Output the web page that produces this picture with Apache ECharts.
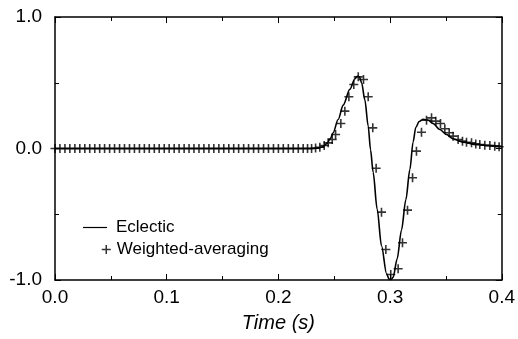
<!DOCTYPE html>
<html>
<head>
<meta charset="utf-8">
<script src="https://cdn.jsdelivr.net/npm/echarts@6/dist/echarts.min.js"></script>
<style>html,body{margin:0;padding:0;background:#fff;}#c{width:518px;height:339px;}</style>
</head>
<body>
<div id="c"></div>
<script>
// Eclectic (solid line)
const lineTime = [0, 0.1, 0.2, 0.23, 0.235, 0.2395, 0.2431, 0.2465, 0.249, 0.2535, 0.258, 0.264, 0.2685, 0.2705, 0.2725, 0.2745, 0.2774, 0.2804, 0.2825, 0.2848, 0.2884, 0.2923, 0.2968, 0.2992, 0.301, 0.3027, 0.3063, 0.3102, 0.3141, 0.3177, 0.3206, 0.323, 0.326, 0.3296, 0.334, 0.3385, 0.3445, 0.3505, 0.3564, 0.3654, 0.3774, 0.3893, 0.4];
const lineValue = [0, 0, 0, 0, 0.003, 0.012, 0.035, 0.075, 0.12, 0.22, 0.33, 0.45, 0.53, 0.55, 0.545, 0.5, 0.37, 0.17, -0.01, -0.18, -0.46, -0.74, -0.95, -0.995, -0.995, -0.98, -0.84, -0.62, -0.39, -0.16, 0.05, 0.16, 0.205, 0.222, 0.215, 0.19, 0.145, 0.106, 0.074, 0.048, 0.03, 0.022, 0.016];

// Weighted-averaging (crosses)
const crossTime = [0.0000, 0.0044, 0.0089, 0.0133, 0.0178, 0.0222, 0.0267, 0.0311, 0.0356, 0.0400, 0.0444, 0.0489, 0.0533, 0.0578, 0.0622, 0.0667, 0.0711, 0.0756, 0.0800, 0.0844, 0.0889, 0.0933, 0.0978, 0.1022, 0.1067, 0.1111, 0.1156, 0.1200, 0.1244, 0.1289, 0.1333, 0.1378, 0.1422, 0.1467, 0.1511, 0.1556, 0.1600, 0.1644, 0.1689, 0.1733, 0.1778, 0.1822, 0.1867, 0.1911, 0.1956, 0.2000, 0.2044, 0.2089, 0.2133, 0.2178, 0.2222,
  0.2261, 0.2297, 0.2333, 0.2371, 0.241, 0.2446, 0.2482, 0.2512, 0.2559, 0.2595, 0.2631, 0.2675, 0.2715, 0.2762, 0.2804, 0.2845, 0.2875, 0.2923, 0.2962, 0.3006, 0.3072, 0.3111, 0.3156, 0.3201, 0.3236, 0.3281, 0.3326, 0.3371, 0.3409, 0.3451, 0.349, 0.3529, 0.3564, 0.3609, 0.3648, 0.3684, 0.3729, 0.3767, 0.3803, 0.3848, 0.3893, 0.3937, 0.3976];
const crossValue = [0, 0, 0, 0, 0, 0, 0, 0, 0, 0, 0, 0, 0, 0, 0, 0, 0, 0, 0, 0, 0, 0, 0, 0, 0, 0, 0, 0, 0, 0, 0, 0, 0, 0, 0, 0, 0, 0, 0, 0, 0, 0, 0, 0, 0, 0, 0, 0, 0, 0, 0,
  0, 0, 0.003, 0.01, 0.023, 0.043, 0.068, 0.106, 0.19, 0.284, 0.393, 0.487, 0.545, 0.525, 0.393, 0.157, -0.15, -0.484, -0.768, -0.958, -0.915, -0.717, -0.469, -0.223, -0.02, 0.124, 0.215, 0.233, 0.208, 0.19, 0.15, 0.12, 0.094, 0.068, 0.056, 0.048, 0.043, 0.035, 0.03, 0.025, 0.023, 0.018, 0.013];

const xTicks = [0, 0.4, 0.1];   // min, max, interval
const yTicks = [-1, 1, 1];

const font = 'Liberation Sans, Arial, sans-serif';
const chart = echarts.init(document.getElementById('c'), null, {renderer: 'canvas'});

const lineData = lineTime.map((t, i) => [t, lineValue[i]]);
const crossData = crossTime.map((t, i) => [t, crossValue[i]]);
const plusPath = 'path://M0,5L10,5M5,0L5,10';

function axisBase(pos, range, showLabel) {
  return {
    type: 'value', position: pos, min: range[0], max: range[1], interval: range[2],
    axisLine: {show: true, onZero: false, lineStyle: {color: '#000', width: 1.5}},
    axisTick: {show: true, inside: true, length: 6, lineStyle: {color: '#000', width: 1}},
    minorTick: {show: true, splitNumber: 2, length: 4, lineStyle: {color: '#000', width: 1}},
    splitLine: {show: false}, minorSplitLine: {show: false},
    axisLabel: {show: showLabel, color: '#000', fontFamily: font, fontSize: 19,
      formatter: v => (Math.abs(v) < 1e-9 ? 0 : v).toFixed(1)}
  };
}

const xb = axisBase('bottom', xTicks, true);
xb.axisLabel.margin = 8;
xb.name = 'Time (s)';
xb.nameLocation = 'middle';
xb.nameGap = 33;
xb.nameTextStyle = {color: '#000', fontFamily: font, fontSize: 20, fontStyle: 'italic'};
const xt = axisBase('top', xTicks, false);
const yl = axisBase('left', yTicks, true);
yl.axisLabel.margin = 13;
const yr = axisBase('right', yTicks, false);

chart.setOption({
  animation: false,
  backgroundColor: '#fff',
  grid: {left: 55, right: 16, top: 17, bottom: 59, containLabel: false},
  xAxis: [xb, xt],
  yAxis: [yl, yr],
  legend: [
    {data: ['Eclectic'], left: 83, top: 219, padding: 0, orient: 'vertical',
     icon: 'rect', itemWidth: 24, itemHeight: 1.2,
     itemStyle: {color: '#000', borderWidth: 0},
     textStyle: {color: '#000', fontFamily: font, fontSize: 17, padding: [0, 0, 0, 4]}},
    {data: ['Weighted-averaging'], left: 101, top: 241, padding: 0, orient: 'vertical',
     icon: plusPath, itemWidth: 9, itemHeight: 9,
     itemStyle: {color: 'rgba(0,0,0,0)', borderColor: '#000', borderWidth: 1.5},
     textStyle: {color: '#000', fontFamily: font, fontSize: 17, padding: [0, 0, 0, 1]}}
  ],
  series: [
    {name: 'Weighted-averaging', type: 'scatter', data: crossData, symbol: plusPath, symbolSize: 9,
     itemStyle: {color: 'rgba(0,0,0,0)', borderColor: '#000', borderWidth: 1.6}, z: 2},
    {name: 'Eclectic', type: 'line', data: lineData, showSymbol: false, smooth: 0.3, smoothMonotone: 'x',
     lineStyle: {color: '#000', width: 1.6}, itemStyle: {color: '#000'}, z: 3}
  ]
});
</script>
</body>
</html>
